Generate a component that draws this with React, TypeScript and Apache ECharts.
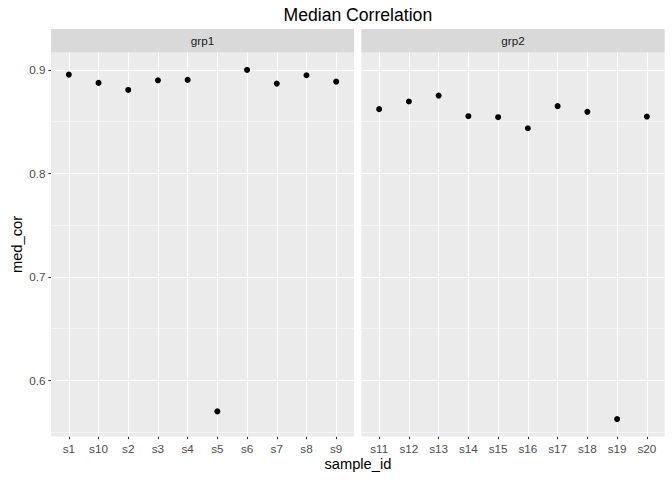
import React, { useEffect, useRef } from "react";
import * as echarts from "echarts";

const titleText = "Median Correlation";
const xName = "sample_id";
const yName = "med_cor";
const facetNames = ["grp1", "grp2"];
const grp1Samples = ["s1", "s10", "s2", "s3", "s4", "s5", "s6", "s7", "s8", "s9"];
const grp1Values = [0.8955, 0.8875, 0.8807, 0.89, 0.8904, 0.5698, 0.9, 0.8868, 0.8949, 0.8887];
const grp2Samples = ["s11", "s12", "s13", "s14", "s15", "s16", "s17", "s18", "s19", "s20"];
const grp2Values = [0.8621, 0.8695, 0.8752, 0.8553, 0.8543, 0.8436, 0.865, 0.8595, 0.5624, 0.8549];
const yMajorTicks = [0.6, 0.7, 0.8, 0.9];
const yMinorTicks = [0.55, 0.65, 0.75, 0.85];

const FONT = "'Liberation Sans', Arial, Helvetica, sans-serif";

export default function App() {
  const ref = useRef<HTMLDivElement>(null);
  useEffect(() => {
    if (!ref.current) return;
    const chart = echarts.init(ref.current, null, { renderer: "svg" });
    const all = [...grp1Values, ...grp2Values];
    const lo = Math.min(...all);
    const hi = Math.max(...all);
    const pad = (hi - lo) * 0.05;
    const yMin = lo - pad;
    const yMax = hi + pad;

    const groups = [
      { samples: grp1Samples, values: grp1Values },
      { samples: grp2Samples, values: grp2Values },
    ];
    const grids = [
      { left: 51, top: 52.5, width: 303, height: 384 },
      { left: 361.3, top: 52.5, width: 303.4, height: 384 },
    ];

    const xAxes = groups.map((g, i) => {
      const idx = g.samples.map((_, k) => k + 1);
      return {
        type: "value",
        gridIndex: i,
        min: 0.4,
        max: g.samples.length + 0.6,
        axisLine: { show: false },
        splitLine: { show: false },
        axisTick: {
          show: true,
          customValues: idx,
          length: 2.7,
          lineStyle: { color: "#333333", width: 1.07 },
        },
        axisLabel: {
          customValues: idx,
          formatter: (v: number) => g.samples[Math.round(v) - 1] ?? "",
          color: "#4D4D4D",
          fontSize: 11.7,
          fontFamily: FONT,
          margin: 5.5,
        },
      };
    });

    const yAxes = groups.map((_, i) => ({
      type: "value",
      gridIndex: i,
      min: yMin,
      max: yMax,
      axisLine: { show: false },
      splitLine: { show: false },
      axisTick: {
        show: i === 0,
        customValues: yMajorTicks,
        length: 2.7,
        lineStyle: { color: "#333333", width: 1.07 },
      },
      axisLabel: {
        show: i === 0,
        customValues: yMajorTicks,
        formatter: (v: number) => v.toFixed(1),
        color: "#4D4D4D",
        fontSize: 11.7,
        fontFamily: FONT,
        margin: 5.6,
      },
    }));

    const series = groups.map((g, i) => ({
      type: "scatter",
      xAxisIndex: i,
      yAxisIndex: i,
      z: 3,
      symbol: "circle",
      symbolSize: 6,
      itemStyle: { color: "#000000", opacity: 1 },
      emphasis: { disabled: true },
      silent: true,
      data: g.values.map((v, k) => [k + 1, v]),
      markLine: {
        silent: true,
        z: 1,
        symbol: ["none", "none"],
        label: { show: false },
        animation: false,
        lineStyle: { color: "#FFFFFF", type: "solid", width: 1.07 },
        emphasis: { disabled: true },
        data: [
          ...yMinorTicks.map((v) => ({ yAxis: v, lineStyle: { color: "#FFFFFF", type: "solid", width: 0.53 } })),
          ...yMajorTicks.map((v) => ({ yAxis: v, lineStyle: { color: "#FFFFFF", type: "solid", width: 1.07 } })),
          ...g.samples.map((_, k) => ({ xAxis: k + 1, lineStyle: { color: "#FFFFFF", type: "solid", width: 1.07 } })),
        ],
      },
    }));

    const graphic: any[] = [];
    grids.forEach((gr, i) => {
      graphic.push({
        type: "rect",
        shape: { x: gr.left, y: 29, width: gr.width, height: 23.5 },
        style: { fill: "#D9D9D9" },
        silent: true,
      });
      graphic.push({
        type: "text",
        x: gr.left + gr.width / 2,
        y: 40.75,
        style: {
          text: facetNames[i],
          fill: "#1A1A1A",
          fontSize: 11.7,
          fontFamily: FONT,
          align: "center",
          verticalAlign: "middle",
        },
        silent: true,
      });
    });
    const center = (grids[0].left + grids[1].left + grids[1].width) / 2;
    graphic.push({
      type: "text",
      x: center,
      y: 15,
      style: {
        text: titleText,
        fill: "#000000",
        fontSize: 17.6,
        fontFamily: FONT,
        align: "center",
        verticalAlign: "middle",
      },
      silent: true,
    });
    graphic.push({
      type: "text",
      x: center,
      y: 464,
      style: {
        text: xName,
        fill: "#000000",
        fontSize: 14.7,
        fontFamily: FONT,
        align: "center",
        verticalAlign: "middle",
      },
      silent: true,
    });
    graphic.push({
      type: "text",
      x: 16.5,
      y: 244.5,
      rotation: Math.PI / 2,
      style: {
        text: yName,
        fill: "#000000",
        fontSize: 14.7,
        fontFamily: FONT,
        align: "center",
        verticalAlign: "middle",
      },
      silent: true,
    });

    chart.setOption({
      animation: false,
      backgroundColor: "#FFFFFF",
      grid: grids.map((g) => ({
        ...g,
        show: true,
        backgroundColor: "#EBEBEB",
        borderWidth: 0,
        containLabel: false,
      })),
      xAxis: xAxes,
      yAxis: yAxes,
      series,
      graphic,
    });
    return () => chart.dispose();
  }, []);
  return (
    <div
      ref={ref}
      style={{ position: "absolute", left: 0, top: 0, width: 672, height: 480 }}
    />
  );
}
